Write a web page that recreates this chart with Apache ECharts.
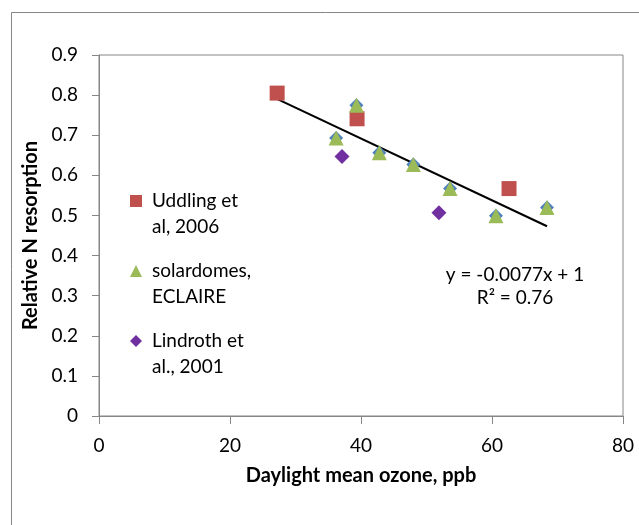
<!DOCTYPE html>
<html>
<head>
<meta charset="utf-8">
<script src="https://cdn.jsdelivr.net/npm/echarts@6/dist/echarts.min.js"></script>
<style>
  html, body { margin: 0; padding: 0; background: #fff; }
  #chart { width: 639px; height: 525px; }
</style>
</head>
<body>
<div id="chart"></div>
<script>
// values
var uddX = [27.2, 39.4, 62.6];
var uddY = [0.805, 0.741, 0.567];
var solarX = [36.2, 39.3, 42.8, 48.0, 53.6, 60.6, 68.4];
var solarY = [0.693, 0.775, 0.656, 0.627, 0.567, 0.499, 0.520];
var lindX = [37.1, 51.9];
var lindY = [0.647, 0.507];
// linear trend, end points
var trendX = [27.0, 68.4];
var trendY = [0.792, 0.473];

var names = ['Uddling et al, 2006', 'solardomes, ECLAIRE', 'Lindroth et al., 2001'];
// leading empty line puts the marker level with the first text line
var legendText = {
  'Uddling et al, 2006': '\nUddling et\nal, 2006',
  'solardomes, ECLAIRE': '\nsolardomes,\nECLAIRE',
  'Lindroth et al., 2001': '\nLindroth et\nal., 2001'
};

function pairs(xs, ys) {
  return xs.map(function(x, i) { return [x, ys[i]]; });
}

var font = 'Lato';
var grey = '#868686';

var chart = echarts.init(document.getElementById('chart'));
chart.setOption({
  animation: false,
  textStyle: { fontFamily: font },
  grid: {
    left: 99, top: 55, right: 16, bottom: 109,
    show: true, borderColor: grey, borderWidth: 1
  },
  legend: {
    data: names,
    orient: 'vertical',
    left: 130,
    top: 162,
    padding: 0,
    itemGap: -8,
    itemWidth: 12,
    itemHeight: 12,
    formatter: function(n) { return legendText[n]; },
    textStyle: {
      fontFamily: font, fontSize: 19, color: '#000',
      lineHeight: 26, padding: [0, 0, 0, 5]
    }
  },
  xAxis: {
    type: 'value', min: 0, max: 80, interval: 20,
    name: 'Daylight mean ozone, ppb',
    nameLocation: 'middle', nameGap: 50,
    nameTextStyle: { fontFamily: font, fontSize: 20, fontWeight: 'bold', color: '#000' },
    axisLine: { show: true, lineStyle: { color: grey } },
    axisTick: { show: true, inside: false, length: 8, lineStyle: { color: grey } },
    axisLabel: { fontSize: 19, color: '#000', margin: 20 },
    splitLine: { show: false }
  },
  yAxis: {
    type: 'value', min: 0, max: 0.9, interval: 0.1,
    name: 'Relative N resorption',
    nameLocation: 'middle', nameGap: 55, nameRotate: 90,
    nameTextStyle: { fontFamily: font, fontSize: 20, fontWeight: 'bold', color: '#000' },
    axisLine: { show: true, lineStyle: { color: grey } },
    axisTick: { show: true, inside: false, length: 7, lineStyle: { color: grey } },
    axisLabel: {
      fontSize: 19, color: '#000', margin: 21,
      formatter: function(v) { return String(+v.toFixed(1)); }
    },
    splitLine: { show: false }
  },
  series: [
    {
      name: 'trend', type: 'line', data: pairs(trendX, trendY),
      symbol: 'none', lineStyle: { color: '#000', width: 2 }, z: 1
    },
    {
      name: 'solar-under', type: 'scatter', data: pairs(solarX, solarY),
      symbol: 'diamond', symbolSize: 14,
      itemStyle: { color: '#4F81BD', opacity: 1 }, z: 2
    },
    {
      name: names[0], type: 'scatter', data: pairs(uddX, uddY),
      symbol: 'rect', symbolSize: 15,
      itemStyle: { color: '#C0504D', opacity: 1 }, z: 3
    },
    {
      name: names[1], type: 'scatter', data: pairs(solarX, solarY),
      symbol: 'triangle', symbolSize: 15,
      itemStyle: { color: '#9BBB59', opacity: 1 }, z: 3
    },
    {
      name: names[2], type: 'scatter', data: pairs(lindX, lindY),
      symbol: 'diamond', symbolSize: 15,
      itemStyle: { color: '#7030A0', opacity: 1 }, z: 3
    }
  ],
  graphic: [
    {
      type: 'rect', silent: true,
      shape: { x: 11.5, y: 12.5, width: 700, height: 600 },
      style: { fill: 'none', stroke: grey, lineWidth: 1 }
    },
    {
      type: 'text', x: 515, y: 263, silent: true,
      style: {
        text: 'y = -0.0077x + 1\nR\u00b2 = 0.76',
        align: 'center', verticalAlign: 'top',
        font: '19px Lato', lineHeight: 23, fill: '#000'
      }
    }
  ]
});
</script>
</body>
</html>
